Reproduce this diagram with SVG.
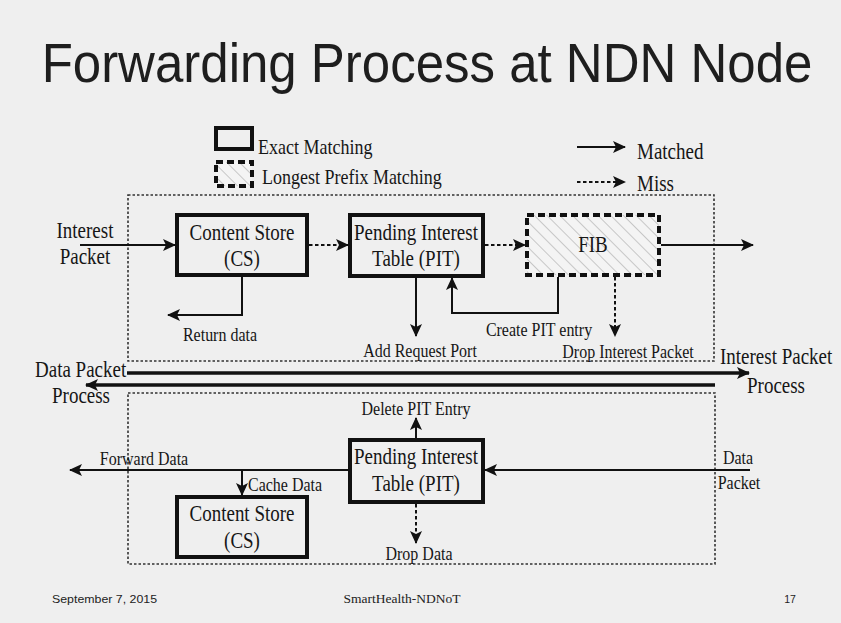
<svg xmlns="http://www.w3.org/2000/svg" width="841" height="623" viewBox="0 0 841 623">
<defs>
<style>
.t{font-family:"Liberation Serif","Times New Roman",serif;fill:#161616}
.b{font-size:19px}
.s{font-size:16px}
.m{text-anchor:middle}
.box{fill:none;stroke:#111;stroke-width:4}
.fib{stroke:#111;stroke-width:4;stroke-dasharray:7 4}
.frame{fill:none;stroke:#333;stroke-width:1.6;stroke-dasharray:2.5 2}
.ln{fill:none;stroke:#111;stroke-width:2}
.dl{fill:none;stroke:#111;stroke-width:2;stroke-dasharray:3.5 2.5}
.big{fill:none;stroke:#111;stroke-width:3.5}
</style>
<marker id="ah" markerUnits="userSpaceOnUse" markerWidth="13" markerHeight="12" viewBox="0 0 13 12" refX="12" refY="6" orient="auto">
<path d="M0,0 L13,6 L0,12 L3,6 Z" fill="#111"/>
</marker>
<pattern id="hatch" patternUnits="userSpaceOnUse" width="9" height="9" patternTransform="rotate(-45)">
<rect width="9" height="9" fill="#f4f4f4"/>
<line x1="0" y1="0" x2="0" y2="9" stroke="#9a9a9a" stroke-width="1"/>
</pattern>
</defs>
<rect width="841" height="623" fill="#efefef"/>

<text transform="translate(427 82) scale(1 1.08)" text-anchor="middle" font-family="'Liberation Sans',Arial,sans-serif" font-size="51" fill="#1e1e1e">Forwarding Process at NDN Node</text>

<g id="legend">
<rect x="216" y="128" width="36" height="21" class="box" stroke-width="3.5"/>
<text transform="translate(258 154) scale(1 1.18)" class="t" font-size="18">Exact Matching</text>
<rect x="216" y="162" width="36" height="24" fill="url(#hatch)" class="fib" stroke-width="3.5"/>
<text transform="translate(262 184) scale(1 1.18)" class="t" font-size="18">Longest Prefix Matching</text>
<line x1="577" y1="147" x2="625" y2="147" class="ln" marker-end="url(#ah)"/>
<text transform="translate(637 159) scale(1 1.18)" class="t b">Matched</text>
<line x1="577" y1="182" x2="625" y2="182" class="dl" marker-end="url(#ah)"/>
<text transform="translate(637 191) scale(1 1.18)" class="t b">Miss</text>
</g>

<g id="frames">
<rect x="128" y="195" width="586" height="166" class="frame"/>
<rect x="128" y="393" width="587" height="171" class="frame"/>
</g>

<g id="cs-top">
<rect x="177" y="215" width="130" height="60" class="box"/>
<text transform="translate(242 240) scale(1 1.18)" class="t b m">Content Store</text>
<text transform="translate(242 266) scale(1 1.18)" class="t b m">(CS)</text>
</g>
<g id="pit-top">
<rect x="350" y="215" width="133" height="61" class="box"/>
<text transform="translate(416 240) scale(1 1.18)" class="t b m">Pending Interest</text>
<text transform="translate(416 266) scale(1 1.18)" class="t b m">Table (PIT)</text>
</g>
<g id="fib">
<rect x="527" y="215" width="132" height="60" fill="url(#hatch)" class="fib"/>
<text transform="translate(593 252) scale(1 1.18)" class="t b m">FIB</text>
</g>
<g id="pit-bottom">
<rect x="350" y="440" width="133" height="62" class="box"/>
<text transform="translate(416 464) scale(1 1.18)" class="t b m">Pending Interest</text>
<text transform="translate(416 491) scale(1 1.18)" class="t b m">Table (PIT)</text>
</g>
<g id="cs-bottom">
<rect x="177" y="497" width="130" height="60" class="box"/>
<text transform="translate(242 521) scale(1 1.18)" class="t b m">Content Store</text>
<text transform="translate(242 548) scale(1 1.18)" class="t b m">(CS)</text>
</g>

<g id="connectors">
<line x1="80" y1="245" x2="175" y2="245" class="ln" marker-end="url(#ah)"/>
<line x1="309" y1="245" x2="348" y2="245" class="dl" marker-end="url(#ah)"/>
<line x1="485" y1="245" x2="525" y2="245" class="dl" marker-end="url(#ah)"/>
<line x1="661" y1="245" x2="753" y2="245" class="ln" marker-end="url(#ah)"/>
<polyline points="242,277 242,315 168,315" class="ln" marker-end="url(#ah)"/>
<line x1="416" y1="278" x2="416" y2="336" class="ln" marker-end="url(#ah)"/>
<polyline points="558,277 558,313 452,313 452,278" class="ln" marker-end="url(#ah)"/>
<line x1="615" y1="277" x2="615" y2="336" class="dl" marker-end="url(#ah)"/>
<line x1="127" y1="373" x2="749" y2="373" class="big" marker-end="url(#ah)"/>
<line x1="715" y1="385" x2="86" y2="385" class="big" marker-end="url(#ah)"/>
<line x1="416" y1="438" x2="416" y2="418" class="ln" marker-end="url(#ah)"/>
<line x1="750" y1="470" x2="485" y2="470" class="ln" marker-end="url(#ah)"/>
<line x1="348" y1="470" x2="70" y2="470" class="ln" marker-end="url(#ah)"/>
<line x1="242" y1="470" x2="242" y2="495" class="ln" marker-end="url(#ah)"/>
<line x1="416" y1="504" x2="416" y2="543" class="dl" marker-end="url(#ah)"/>
</g>

<g id="labels">
<text transform="translate(85 238) scale(1 1.18)" class="t b m">Interest</text>
<text transform="translate(85 264) scale(1 1.18)" class="t b m">Packet</text>
<text transform="translate(220 341) scale(1 1.18)" class="t s m">Return data</text>
<text transform="translate(420 357) scale(1 1.18)" class="t s m">Add Request Port</text>
<text transform="translate(539 336) scale(1 1.18)" class="t s m">Create PIT entry</text>
<text transform="translate(628 358) scale(1 1.18)" class="t s m">Drop Interest Packet</text>
<text transform="translate(35 377) scale(1 1.18)" class="t b">Data Packet</text>
<text transform="translate(52 403) scale(1 1.18)" class="t b">Process</text>
<text transform="translate(720 364) scale(1 1.18)" class="t b">Interest Packet</text>
<text transform="translate(747 393) scale(1 1.18)" class="t b">Process</text>
<text transform="translate(416 415) scale(1 1.18)" class="t s m">Delete PIT Entry</text>
<text transform="translate(144 465) scale(1 1.18)" class="t s m">Forward Data</text>
<text transform="translate(248 491) scale(1 1.18)" class="t s">Cache Data</text>
<text transform="translate(738 464) scale(1 1.18)" class="t s m">Data</text>
<text transform="translate(739 489) scale(1 1.18)" class="t s m">Packet</text>
<text transform="translate(419 560) scale(1 1.18)" class="t s m">Drop Data</text>
</g>

<g id="footer">
<text x="52" y="603" font-family="'Liberation Sans',Arial,sans-serif" font-size="10.5" fill="#222" textLength="105" lengthAdjust="spacingAndGlyphs">September 7, 2015</text>
<text x="402" y="603" text-anchor="middle" font-family="'Liberation Serif',serif" font-size="13.5" fill="#222">SmartHealth-NDNoT</text>
<text x="790" y="603" text-anchor="middle" font-family="'Liberation Sans',Arial,sans-serif" font-size="10.5" fill="#222">17</text>
</g>
</svg>
